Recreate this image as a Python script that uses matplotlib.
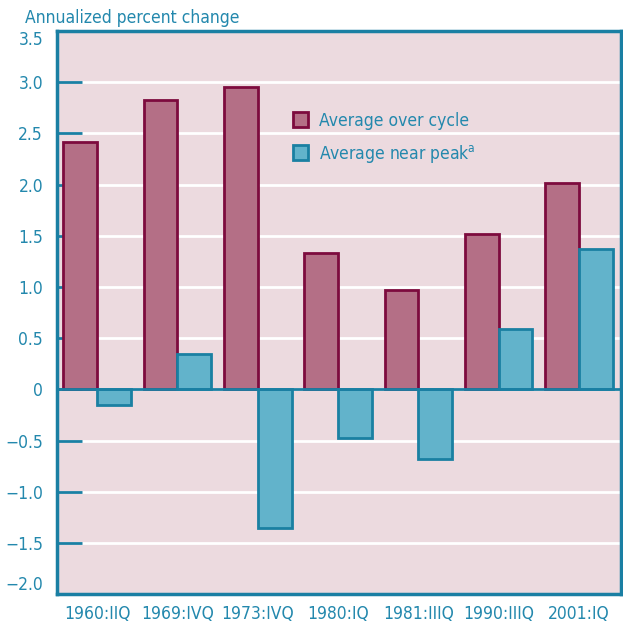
import numpy as np
import matplotlib.pyplot as plt
from matplotlib.patches import Patch

peaks = ["1960:IIQ", "1969:IVQ", "1973:IVQ", "1980:IQ", "1981:IIIQ", "1990:IIIQ", "2001:IQ"]
avg_cycle = [2.42, 2.83, 2.95, 1.33, 0.97, 1.52, 2.02]
avg_peak = [-0.15, 0.35, -1.35, -0.48, -0.68, 0.59, 1.37]

teal = "#2388ad"
frame_col = "#1a7fa3"
bg = "#ecdadf"
red_fill = "#b46f86"
red_edge = "#7d0b3e"
blue_fill = "#62b3cb"
blue_edge = "#1a80a2"

plt.rcParams["font.family"] = ["DejaVu Sans"]
plt.rcParams["font.stretch"] = "condensed"

fig = plt.figure(figsize=(6.23, 6.23), dpi=100)
ax = fig.add_axes([0.0915, 0.0465, 0.905, 0.9035])
ax.set_facecolor(bg)

x = np.arange(len(peaks))
w = 0.42
ax.bar(x - w / 2, avg_cycle, w, color=red_fill, edgecolor=red_edge, linewidth=2, zorder=3)
ax.bar(x + w / 2, avg_peak, w, color=blue_fill, edgecolor=blue_edge, linewidth=2, zorder=3)

ax.set_ylim(-2.0, 3.5)
ax.set_xlim(-0.5, 6.52)
yt = np.arange(-2.0, 3.51, 0.5)
ax.set_yticks(yt)
ax.set_yticklabels(["0" if abs(v) < 1e-9 else ("\u2212%.1f" % -v if v < 0 else "%.1f" % v) for v in yt])
for v in yt:
    ax.axhline(v, color="white", linewidth=2, zorder=1)
ax.axhline(0, color=frame_col, linewidth=2, zorder=4)

ax.set_xticks(x)
ax.set_xticklabels(peaks)
ax.tick_params(axis="x", length=0, pad=8, labelsize=12.5, labelcolor=teal)
ax.tick_params(axis="y", direction="in", length=18, width=2, color=frame_col,
               labelsize=12.5, labelcolor=teal, pad=10)
ylabels = ax.get_yticklabels()
ylabels[-1].set_va("top")
ylabels[0].set_va("bottom")
for s in ax.spines.values():
    s.set_color(frame_col)
    s.set_linewidth(2.5)
    s.set_zorder(5)

fig.text(0.04, 0.985, "Annualized percent change", color=teal, fontsize=12.5, va="top", ha="left")

handles = [Patch(facecolor=red_fill, edgecolor=red_edge, linewidth=2),
           Patch(facecolor=blue_fill, edgecolor=blue_edge, linewidth=2)]
leg = ax.legend(handles, ["Average over cycle", "Average near peak$^\\mathregular{a}$"],
                loc="upper left", bbox_to_anchor=(0.39, 0.885), frameon=False,
                handlelength=0.9, handleheight=0.9, handletextpad=0.6,
                labelspacing=0.75, fontsize=12.5)
for t in leg.get_texts():
    t.set_color(teal)

fig.savefig("out.png", dpi=100)
